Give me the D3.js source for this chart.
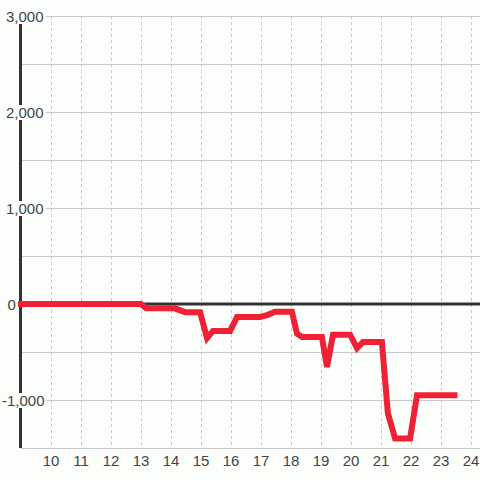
<!DOCTYPE html>
<html>
<head>
<meta charset="utf-8">
<script src="https://cdn.jsdelivr.net/npm/d3@7"></script>
<style>
  html, body { margin: 0; padding: 0; background: #fcfefc; }
  svg { display: block; }
  text { font-family: "Liberation Sans", Arial, sans-serif; }
</style>
</head>
<body>
<svg id="chart" width="480" height="480"></svg>
<script>
// ---- data ----
const hours = [9, 13.0, 13.17, 14.13, 14.47, 14.97, 15.2, 15.4, 15.97, 16.2, 16.97, 17.2, 17.47, 18.03, 18.2, 18.37, 19.03, 19.2, 19.4, 19.97, 20.2, 20.4, 21.03, 21.23, 21.47, 21.97, 22.2, 23.45];
const values = [0, 0, -45, -45, -85, -85, -355, -280, -280, -135, -135, -115, -80, -80, -310, -345, -345, -655, -320, -320, -460, -395, -395, -1140, -1400, -1400, -950, -950];
const xTicks = [10, 11, 12, 13, 14, 15, 16, 17, 18, 19, 20, 21, 22, 23, 24];
const yTicks = [-1000, 0, 1000, 2000, 3000];
const yGrid = [-1500, -1000, -500, 0, 500, 1000, 1500, 2000, 2500, 3000];

const svg = d3.select("#chart");
const W = 480, H = 480;
const bg = "#fcfefc";
svg.append("rect").attr("width", W).attr("height", H).attr("fill", bg);

const x = d3.scaleLinear().domain([9, 24.3]).range([21, 480]);
const y = d3.scaleLinear().domain([-1500, 3000]).range([448, 16]);

// horizontal gridlines
svg.append("g").selectAll("line").data(yGrid).join("line")
  .attr("x1", 21).attr("x2", W)
  .attr("y1", d => Math.round(y(d)) + 0.5).attr("y2", d => Math.round(y(d)) + 0.5)
  .attr("stroke", "#c8c8c8").attr("stroke-width", 1);

// vertical dashed gridlines
svg.append("g").selectAll("line").data(xTicks).join("line")
  .attr("x1", d => Math.round(x(d)) + 0.5).attr("x2", d => Math.round(x(d)) + 0.5)
  .attr("y1", 16).attr("y2", 448)
  .attr("stroke", "#c8c8c8").attr("stroke-width", 1)
  .attr("stroke-dasharray", "3,3");

// y axis line
svg.append("line")
  .attr("x1", 20.5).attr("x2", 20.5).attr("y1", 16).attr("y2", 448)
  .attr("stroke", "#333").attr("stroke-width", 3);

// zero line
svg.append("line")
  .attr("x1", 20).attr("x2", W).attr("y1", y(0)).attr("y2", y(0))
  .attr("stroke", "#333").attr("stroke-width", 3);

// y labels with background
const fmt = d3.format(",");
const yl = svg.append("g");
yTicks.forEach(v => {
  const g = yl.append("g");
  const xs = v < 0 ? 2 : (v === 0 ? 7.5 : 6);
  const t = g.append("text")
    .attr("x", xs).attr("y", y(v) + 5.5)
    .attr("font-size", 15).attr("fill", "#444")
    .text(v < 0 ? "-" + fmt(-v) : fmt(v));
  const b = t.node().getBBox();
  g.insert("rect", "text")
    .attr("x", b.x - 2).attr("y", y(v) - 7)
    .attr("width", b.width + 4).attr("height", 15)
    .attr("fill", bg);
});

// x labels
svg.append("g").selectAll("text").data(xTicks).join("text")
  .attr("x", d => x(d)).attr("y", 466)
  .attr("text-anchor", "middle")
  .attr("font-size", 15).attr("fill", "#444")
  .text(d => d);

// red line
const line = d3.line().x((d, i) => x(hours[i])).y(d => y(d));
svg.append("path")
  .datum(values)
  .attr("d", line)
  .attr("fill", "none")
  .attr("stroke", "#ee2135")
  .attr("stroke-width", 6)
  .attr("stroke-linecap", "square")
  .attr("stroke-linejoin", "miter");
</script>
</body>
</html>
